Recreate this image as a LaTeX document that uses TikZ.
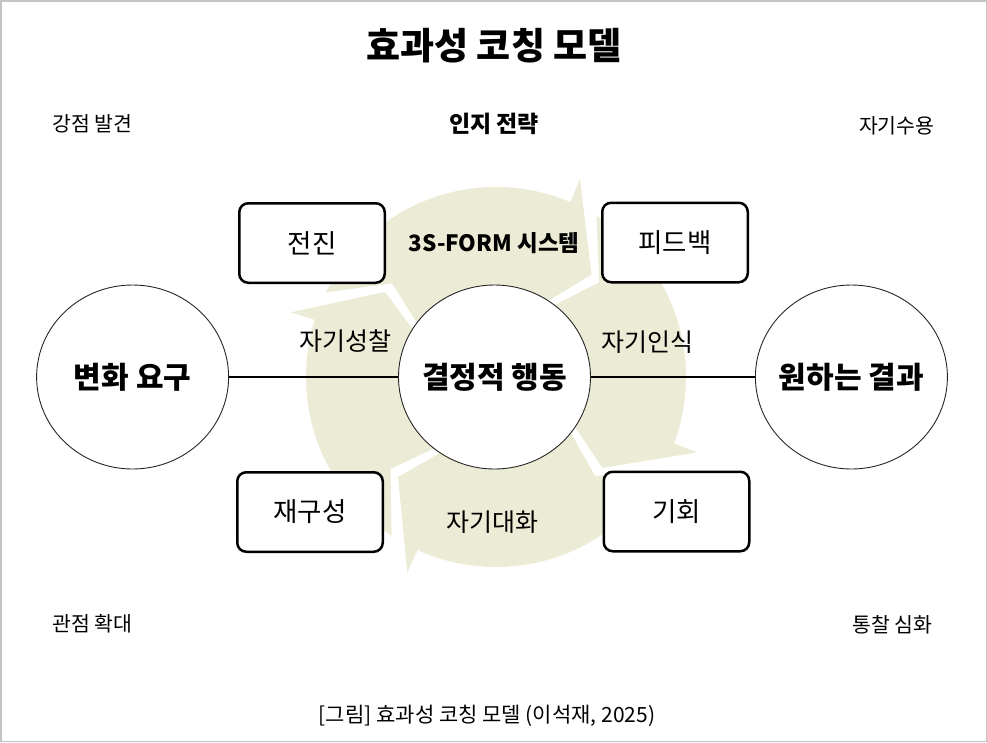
\documentclass[tikz,border=0pt]{standalone}
\usepackage{fontspec}
\setmainfont{Noto Sans CJK KR}
\usepackage{tikz}
\usetikzlibrary{shapes.geometric, positioning}
\definecolor{ringtan}{HTML}{ECEBD6}
\definecolor{framegray}{HTML}{C4C4C4}

\begin{document}
\begin{tikzpicture}[
  x=1pt, y=-1pt,
  node distance=169pt,
  stage/.style={ellipse, draw=black!85, line width=0.9pt, fill=white,
                inner xsep=-8pt, inner ysep=0pt,
                minimum width=192pt, minimum height=184pt,
                font=\fontsize{30}{34}\selectfont\bfseries},
  panel/.style={rectangle, rounded corners=9pt, draw=black, line width=2.5pt,
                fill=white, minimum width=145.5pt, minimum height=79.5pt,
                font=\fontsize{26.5}{30}\selectfont},
  cornertext/.style={font=\fontsize{20.5}{24}\selectfont},
  ringlabel/.style={font=\fontsize{25}{29}\selectfont},
  linkline/.style={line width=1.5pt, color=black},
]

\useasboundingbox (0,0) rectangle (987,742);
\draw[framegray, line width=1.5pt] (0.75,0.75) rectangle (986.25,741.25);

% background cycle of four arrows
\begin{scope}[shift={(496,377)}]
  \begin{scope}
    \clip (0,0) circle[radius=190];
    \foreach \tp/\t in {217.5/313, 313/400.5, 400.5/494.4, 134.4/217.5}{
      \pgfmathsetmacro{\tail}{\tp-20+4.5}
      \pgfmathsetmacro{\notch}{\tp+4.5}
      \pgfmathsetmacro{\base}{\t-19.5}
      \fill[ringtan] (\tail:40) -- (\tail:65) -- (\notch:140) -- (\tail:215)
        -- (\tail:240) arc[start angle=\tail, end angle=\base, radius=240]
        -- (\base:40) arc[start angle=\base, end angle=\tail, radius=40] -- cycle;
    }
  \end{scope}
  \foreach \t in {313, 400.5, 494.4, 217.5}{
    \pgfmathsetmacro{\base}{\t-20}
    \fill[ringtan] (\base:65) -- (\t:140) -- (\base:215) -- cycle;
  }
\end{scope}

\node[font=\fontsize{37}{40}\selectfont\bfseries] (title) at (494,46) {효과성 코칭 모델};

\node[cornertext, anchor=west] (strength) at (49,124) {강점 발견};
\node[font=\fontsize{23}{27}\selectfont\bfseries] (strategy) at (494,124) {인지 전략};
\node[cornertext, anchor=east] (accept) at (938,126) {자기수용};
\node[cornertext, anchor=west] (widen) at (49,624) {관점 확대};
\node[cornertext, anchor=east] (insight) at (936,625) {통찰 심화};

\node[stage] (action) at (494.5,377) {결정적 행동};
\node[stage, left=of action] (change) {변화 요구};
\node[stage, right=164pt of action] (result) {원하는 결과};

\draw[linkline] (change) -- (action);
\draw[linkline] (action) -- (result);

\node[panel] (forward) at (312,243) {전진};
\node[panel] (feedback) at (675,242.5) {피드백};
\node[panel] (reframe) at (310,512) {재구성};
\node[panel] (chance) at (676.5,511.5) {기회};

\node[font=\fontsize{22.5}{26}\selectfont\bfseries] (system) at (494,243) {3S-FORM 시스템};
\node[ringlabel] (reflect) at (345,341) {자기성찰};
\node[ringlabel] (aware) at (647,342) {자기인식};
\node[ringlabel] (talk) at (492,522) {자기대화};

\node[font=\fontsize{21}{25}\selectfont] (caption) at (487,716) {[그림] 효과성 코칭 모델 (이석재, 2025)};

\end{tikzpicture}
\end{document}
